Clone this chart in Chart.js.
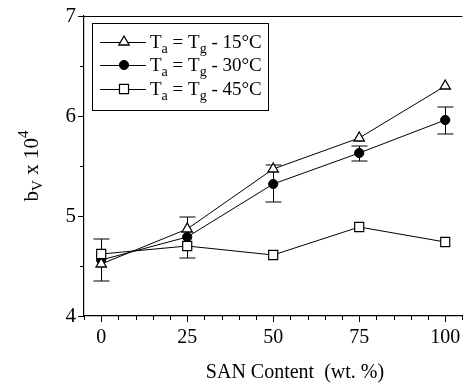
<!DOCTYPE html>
<html>
<head>
<meta charset="utf-8">
<script src="https://cdn.jsdelivr.net/npm/chart.js@4/dist/chart.umd.min.js"></script>
<style>
  html, body { margin: 0; padding: 0; background: #fff; }
  #wrap { width: 470px; height: 384px; }
</style>
</head>
<body>
<div id="wrap"><canvas id="c" width="470" height="384"></canvas></div>
<script>
// SAN content (wt. %)
const sanContent = [0, 25, 50, 75, 100]
// b_V x 10^4 for each aging temperature
const ta15 = [4.52, 4.87, 5.47, 5.78, 6.30]
const ta30 = [4.56, 4.79, 5.32, 5.63, 5.96]
const ta30Low = [4.35, 4.58, 5.14, 5.55, 5.82]
const ta30High = [4.77, 4.99, 5.51, 5.70, 6.09]
const ta45 = [4.62, 4.70, 4.61, 4.89, 4.74]
const seriesTemps = ['15', '30', '45']
const xTicks = [0, 25, 50, 75, 100]
const yTicks = [4, 5, 6, 7]

const SERIF = '"Liberation Serif", "DejaVu Serif", serif'
const toPoints = ys => sanContent.map((x, i) => ({ x: x, y: ys[i] }))

// minor ticks, error bars, frame top, titles and the legend box
const extras = {
    id: 'extras',
    beforeDatasetsDraw(chart) {
        const { ctx, scales: { x, y } } = chart
        ctx.save()
        ctx.strokeStyle = '#000'
        ctx.lineWidth = 1
        sanContent.forEach((v, i) => {
            const px = Math.round(x.getPixelForValue(v)) + 0.5
            const top = y.getPixelForValue(ta30High[i])
            const bot = y.getPixelForValue(ta30Low[i])
            ctx.beginPath()
            ctx.moveTo(px, top); ctx.lineTo(px, bot)
            ctx.moveTo(px - 8, top); ctx.lineTo(px + 8, top)
            ctx.moveTo(px - 8, bot); ctx.lineTo(px + 8, bot)
            ctx.stroke()
        })
        ctx.restore()
    },
    afterDraw(chart) {
        const { ctx, chartArea: a, scales: { x, y } } = chart
        ctx.save()
        ctx.strokeStyle = '#000'
        ctx.fillStyle = '#000'
        ctx.lineWidth = 1.2

        // top frame line
        ctx.beginPath()
        ctx.moveTo(a.left, a.top + 0.5); ctx.lineTo(a.right, a.top + 0.5)
        ctx.stroke()

        // minor ticks
        ctx.lineWidth = 1
        ctx.beginPath()
        for (let v = -5; v <= 105; v += 5) {
            if (v % 25 === 0) continue
            const px = Math.round(x.getPixelForValue(v)) + 0.5
            ctx.moveTo(px, a.bottom); ctx.lineTo(px, a.bottom + 4)
        }
        for (let v = 4.5; v < 7; v += 1) {
            const py = Math.round(y.getPixelForValue(v)) + 0.5
            ctx.moveTo(a.left, py); ctx.lineTo(a.left - 4, py)
        }
        ctx.stroke()

        // x title
        ctx.font = '20px ' + SERIF
        ctx.textAlign = 'center'
        ctx.textBaseline = 'alphabetic'
        ctx.fillText('SAN Content  (wt. %)', 295, 378)

        // y title: b_V x 10^4
        ctx.textAlign = 'left'
        ctx.save()
        ctx.translate(38, 166)
        ctx.rotate(-Math.PI / 2)
        const big = '21px ' + SERIF, small = '15px ' + SERIF
        ctx.font = big; const wb = ctx.measureText('b').width
        ctx.font = small; const wv = ctx.measureText('V').width
        ctx.font = big; const wm = ctx.measureText(' x 10').width
        ctx.font = small; const w4 = ctx.measureText('4').width
        let cx = -(wb + wv + wm + w4) / 2
        ctx.font = big; ctx.fillText('b', cx, 0); cx += wb
        ctx.font = small; ctx.fillText('V', cx, 4); cx += wv
        ctx.font = big; ctx.fillText(' x 10', cx, 0); cx += wm
        ctx.font = small; ctx.fillText('4', cx, -10)
        ctx.restore()

        // legend
        ctx.lineWidth = 1
        ctx.strokeRect(92.5, 23.5, 176, 87)
        const rows = [42, 65, 89]
        chart.data.datasets.forEach((ds, i) => {
            const ry = rows[i]
            ctx.lineWidth = 1
            ctx.strokeStyle = '#000'
            ctx.beginPath()
            ctx.moveTo(100, ry + 0.5); ctx.lineTo(146, ry + 0.5)
            ctx.stroke()
            ctx.fillStyle = ds.pointBackgroundColor
            ctx.strokeStyle = '#000'
            ctx.lineWidth = ds.pointBorderWidth
            Chart.helpers.drawPoint(ctx, {
                pointStyle: ds.pointStyle, radius: ds.pointRadius,
                borderWidth: ds.pointBorderWidth, rotation: 0
            }, 124, ry)
            ctx.fillStyle = '#000'
            ctx.textAlign = 'left'
            let tx = 150
            const base = ry + 6
            const seg = (t, f, dy) => { ctx.font = f; ctx.fillText(t, tx, base + dy); tx += ctx.measureText(t).width }
            const mf = '19px ' + SERIF, sf = '14px ' + SERIF
            seg('T', mf, 0); seg('a', sf, 5); seg(' = T', mf, 0); seg('g', sf, 5)
            seg(' - ' + seriesTemps[i] + '°C', mf, 0)
        })
        ctx.restore()
    }
}

new Chart(document.getElementById('c'), {
    type: 'line',
    data: {
        datasets: [
            {
                data: toPoints(ta15), borderColor: '#000', borderWidth: 1,
                pointStyle: 'triangle', pointRadius: 6, pointBorderWidth: 1.3,
                pointBackgroundColor: '#fff', pointBorderColor: '#000', order: 2
            },
            {
                data: toPoints(ta30), borderColor: '#000', borderWidth: 1,
                pointStyle: 'circle', pointRadius: 4.6, pointBorderWidth: 1,
                pointBackgroundColor: '#000', pointBorderColor: '#000', order: 3
            },
            {
                data: toPoints(ta45), borderColor: '#000', borderWidth: 1,
                pointStyle: 'rect', pointRadius: 6.4, pointBorderWidth: 1.2,
                pointBackgroundColor: '#fff', pointBorderColor: '#000', order: 1
            }
        ]
    },
    options: {
        responsive: false,
        animation: false,
        layout: { padding: { top: 16, right: 0, left: 0, bottom: 0 } },
        plugins: { legend: { display: false }, tooltip: { enabled: false } },
        scales: {
            x: {
                type: 'linear', min: -5, max: 105,
                afterBuildTicks: s => { s.ticks = xTicks.map(v => ({ value: v })) },
                afterFit: s => { s.height = 68 },
                ticks: { color: '#000', padding: 4, maxRotation: 0, font: { family: SERIF, size: 20 } },
                grid: { drawOnChartArea: false, tickLength: 6, color: '#000', lineWidth: 1 },
                border: { color: '#000', width: 1.2 }
            },
            y: {
                type: 'linear', min: 4, max: 7,
                afterBuildTicks: s => { s.ticks = yTicks.map(v => ({ value: v })) },
                afterFit: s => { s.width = 84 },
                ticks: { color: '#000', padding: 2, font: { family: SERIF, size: 21 } },
                grid: { drawOnChartArea: false, tickLength: 6, color: '#000', lineWidth: 1 },
                border: { color: '#000', width: 1.2 }
            }
        }
    },
    plugins: [extras]
})
</script>
</body>
</html>
